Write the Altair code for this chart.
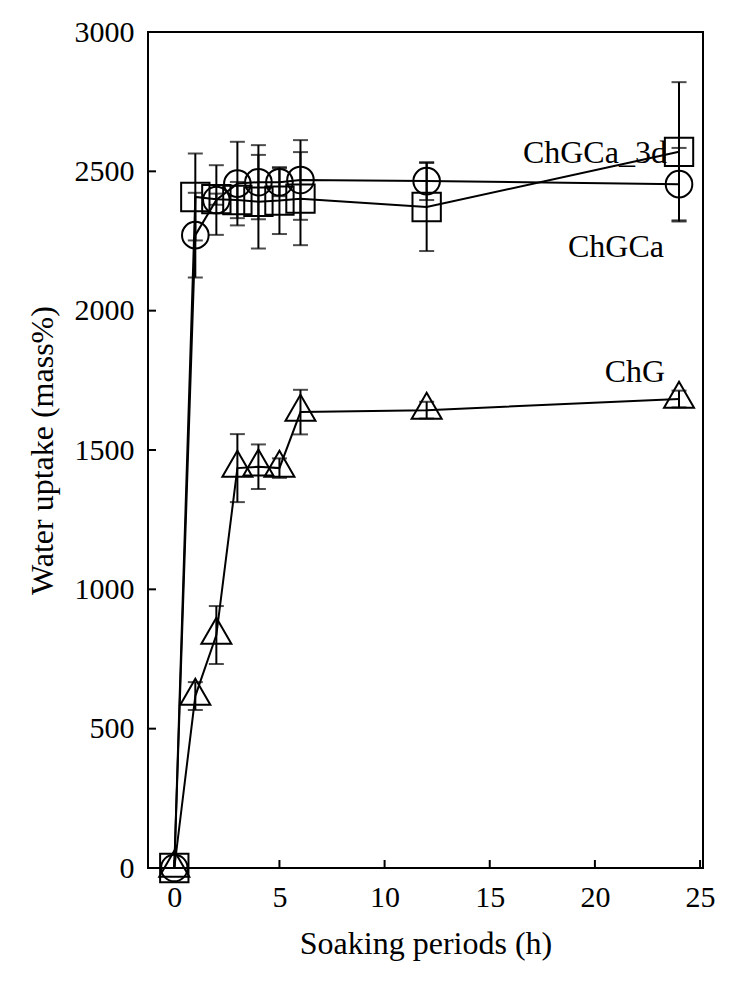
import altair as alt
import pandas as pd

# --- data ---
times = [0, 1, 2, 3, 4, 5, 6, 12, 24]
chgca = [0, 2271, 2397, 2456, 2461, 2461, 2469, 2465, 2454]
chgca_err = [0, 152, 125, 150, 133, 50, 143, 68, 130]
chgca3d = [0, 2408, 2400, 2397, 2391, 2395, 2402, 2372, 2570]
chgca3d_err = [0, 156, 20, 65, 168, 120, 167, 158, 250]
chg = [0, 617, 836, 1435, 1440, 1435, 1636, 1643, 1683]
chg_err = [0, 50, 104, 122, 80, 35, 80, 30, 30]

series_names = ["ChGCa", "ChGCa_3d", "ChG"]
x_ticks = [0, 5, 10, 15, 20, 25]
y_ticks = [500, 1000, 1500, 2000, 2500]

label_text = ["ChGCa_3d", "ChGCa", "ChG"]
label_x = [20.0, 21.0, 21.9]
label_y = [2566, 2228, 1780]

rows = []
for name, vals, errs in zip(series_names, [chgca, chgca3d, chg], [chgca_err, chgca3d_err, chg_err]):
    for t, v, e in zip(times, vals, errs):
        rows.append({"series": name, "t": t, "v": v, "err": e, "lo": v - e, "hi": v + e})
df = pd.DataFrame(rows)
df_err = df[df["err"] > 0]

FONT = "Liberation Serif"
xs = alt.Scale(domain=[-1.25, 25.14], nice=False, zero=False)
ys = alt.Scale(domain=[0, 3000], nice=False, zero=True)

X = alt.X("t:Q", scale=xs, title="Soaking periods (h)",
          axis=alt.Axis(values=x_ticks, labelPadding=14, titlePadding=16, labelFlush=False))
Y = alt.Y("v:Q", scale=ys, title="Water uptake (mass%)",
          axis=alt.Axis(values=[0] + y_ticks + [3000], format="d", labelPadding=14,
                        titlePadding=15, labelFlush=False))

base = alt.Chart(df)

lines = base.mark_line(color="black", strokeWidth=2).encode(x=X, y=Y, detail="series:N")

err_rules = alt.Chart(df_err).mark_rule(color="black", strokeWidth=2).encode(
    x=alt.X("t:Q", scale=xs), y=alt.Y("lo:Q", scale=ys), y2="hi:Q")
cap_lo = alt.Chart(df_err).mark_tick(color="black", thickness=2, size=15, orient="horizontal").encode(
    x=alt.X("t:Q", scale=xs), y=alt.Y("lo:Q", scale=ys))
cap_hi = alt.Chart(df_err).mark_tick(color="black", thickness=2, size=15, orient="horizontal").encode(
    x=alt.X("t:Q", scale=xs), y=alt.Y("hi:Q", scale=ys))

tri = "M0,-1.155L1,0.577L-1,0.577Z"
points = base.mark_point(filled=False, color="black", strokeWidth=2, opacity=1).encode(
    x=alt.X("t:Q", scale=xs),
    y=alt.Y("v:Q", scale=ys),
    shape=alt.Shape("series:N", scale=alt.Scale(domain=series_names, range=["circle", "square", tri]), legend=None),
    size=alt.Size("series:N", scale=alt.Scale(domain=series_names, range=[707, 900, 1330]), legend=None),
)

xt = alt.Chart(pd.DataFrame({"xt": x_ticks})).mark_rule(color="black", strokeWidth=2).encode(
    x=alt.X("xt:Q", scale=xs), y=alt.value(836), y2=alt.value(828))
yt = alt.Chart(pd.DataFrame({"yt": y_ticks})).mark_rule(color="black", strokeWidth=2).encode(
    y=alt.Y("yt:Q", scale=ys), x=alt.value(0), x2=alt.value(8))

labels = alt.Chart(pd.DataFrame({"lab": label_text, "lx": label_x, "ly": label_y})).mark_text(
    font=FONT, fontSize=32, color="black", align="center", baseline="middle").encode(
    x=alt.X("lx:Q", scale=xs), y=alt.Y("ly:Q", scale=ys), text="lab:N")

chart = alt.layer(err_rules, cap_lo, cap_hi, lines, points, xt, yt, labels).properties(
    width=555, height=836,
    autosize=alt.AutoSizeParams(type="none"),
    padding={"left": 140, "top": 24, "right": 20, "bottom": 100},
).configure_view(stroke="black", strokeWidth=2).configure_axis(
    grid=False, domain=False, ticks=False,
    labelFont=FONT, labelFontSize=30, labelColor="black",
    titleFont=FONT, titleFontSize=32, titleColor="black", titleFontWeight="normal",
)

chart.save("out.html", embed_options={"renderer": "svg", "actions": False})
